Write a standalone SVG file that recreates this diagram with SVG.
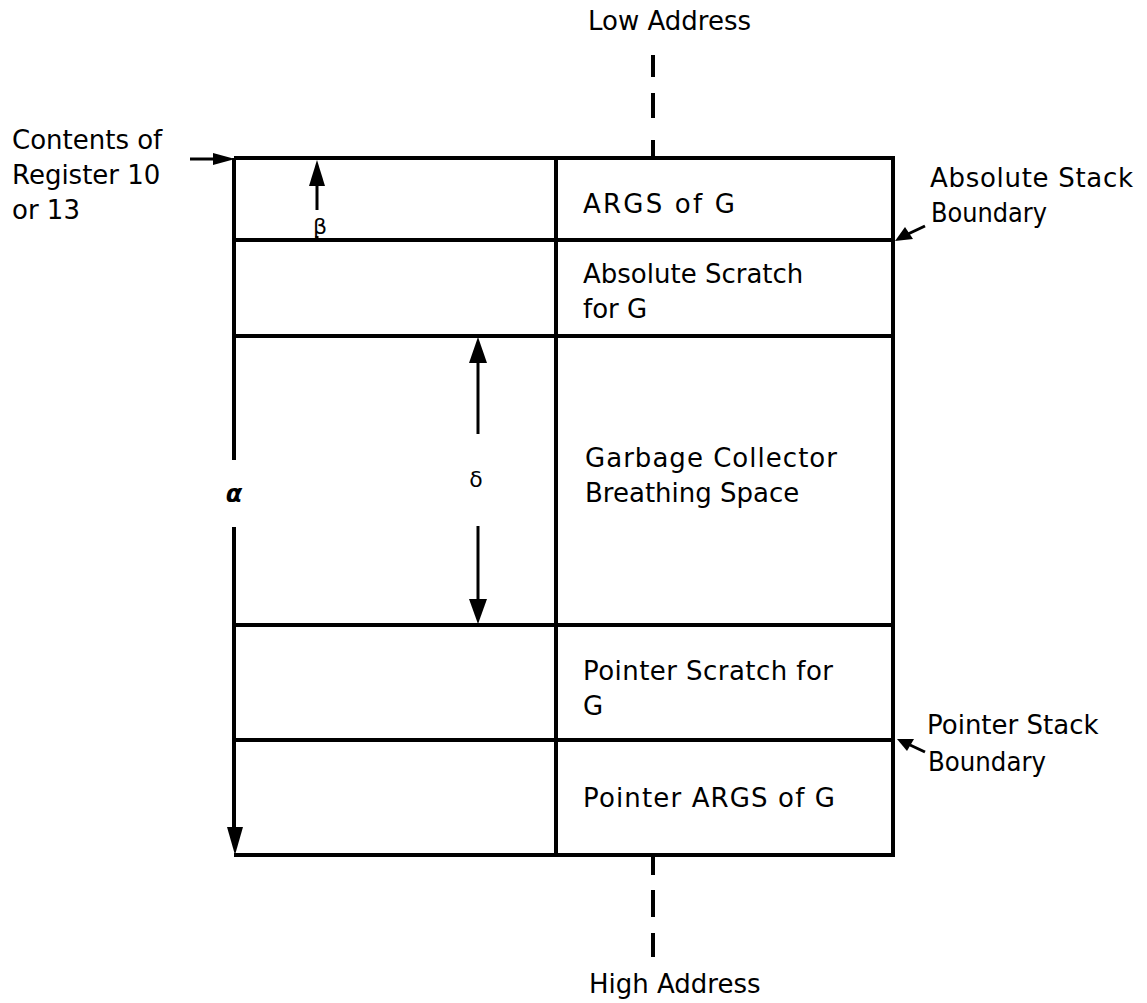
<svg xmlns="http://www.w3.org/2000/svg" width="1147" height="1003" viewBox="0 0 1147 1003">
<defs>
<style>
.t{font-family:"DejaVu Sans","Liberation Sans",sans-serif;font-size:26px;fill:#000}
.g{font-family:"DejaVu Sans","Liberation Sans",sans-serif;fill:#000}
.box{fill:none;stroke:#000;stroke-width:4}
.ln{stroke:#000;stroke-width:4;fill:none}
.ar{stroke:#000;stroke-width:3;fill:none}
</style>
</defs>
<rect width="1147" height="1003" fill="#fff"/>
<g id="connectors">
<!-- dashed address axis -->
<path class="ln" d="M653 55V77M653 93V118M653 140V158"/>
<path class="ln" d="M653 855V875M653 890V917M653 933V957"/>
<!-- register pointer arrow -->
<path class="ar" d="M190 159H216"/>
<polygon points="235,159 213,153 213,165" fill="#000"/>
<!-- beta arrow -->
<path class="ar" d="M317 185V210"/>
<polygon points="317,160 309,186 325,186" fill="#000"/>
<path class="ar" d="M317 236V240"/>
<!-- delta arrow -->
<path class="ar" d="M478 360V434"/>
<polygon points="478,337 469,363 487,363" fill="#000"/>
<path class="ar" d="M478 526V602"/>
<polygon points="478,624 469,599 487,599" fill="#000"/>
<!-- boundary arrows -->
<path class="ar" d="M925 226L908 234"/>
<polygon points="895,241 905,227 913,239" fill="#000"/>
<path class="ar" d="M925 752L910 745"/>
<polygon points="897,739 914,739 907,751" fill="#000"/>
</g>
<g id="frame">
<path class="ln" d="M234 158H893V855H234"/>
<path class="ln" d="M234 158V460M234 527V830"/>
<polygon points="235,855 227,827 243,827" fill="#000"/>
<path class="ln" d="M556 158V855"/>
</g>
<g id="args"><path class="ln" d="M234 240H893"/><text class="t" x="583" y="213" textLength="152" lengthAdjust="spacing">ARGS of G</text></g>
<g id="abs-scratch"><path class="ln" d="M234 336H893"/><text class="t" x="583" y="283">Absolute Scratch</text><text class="t" x="583" y="318">for G</text></g>
<g id="gc-space"><text class="t" x="585" y="467" textLength="252" lengthAdjust="spacing">Garbage Collector</text><text class="t" x="585" y="502">Breathing Space</text></g>
<g id="ptr-scratch"><path class="ln" d="M234 625H893"/><text class="t" x="583" y="680" textLength="250" lengthAdjust="spacing">Pointer Scratch for</text><text class="t" x="583" y="715">G</text></g>
<g id="ptr-args"><path class="ln" d="M234 740H893"/><text class="t" x="583" y="807" textLength="252" lengthAdjust="spacing">Pointer ARGS of G</text></g>
<g id="labels">
<text class="t" x="588" y="30">Low Address</text>
<text class="t" x="589" y="993">High Address</text>
<text class="t" x="12" y="149">Contents of</text>
<text class="t" x="12" y="184">Register 10</text>
<text class="t" x="12" y="219">or 13</text>
<text class="t" x="930" y="187" textLength="203" lengthAdjust="spacing">Absolute Stack</text>
<text class="t" x="931" y="222" textLength="116" lengthAdjust="spacingAndGlyphs">Boundary</text>
<text class="t" x="927" y="734">Pointer Stack</text>
<text class="t" x="928" y="771" textLength="118" lengthAdjust="spacingAndGlyphs">Boundary</text>
<text class="g" x="320" y="234" font-size="22" text-anchor="middle">β</text>
<text class="g" x="476" y="487" font-size="22" text-anchor="middle">δ</text>
<text class="g" x="234" y="502" font-size="24" font-style="italic" font-weight="bold" text-anchor="middle">α</text>
</g>
</svg>
